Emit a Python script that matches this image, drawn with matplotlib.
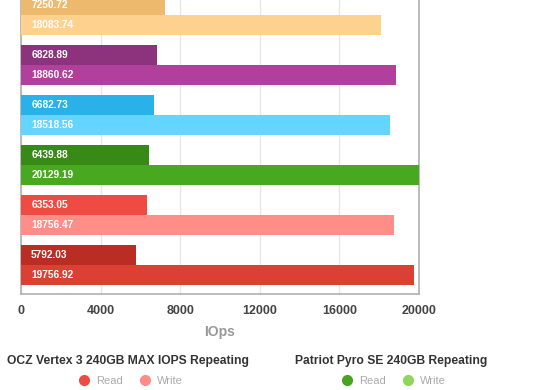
import matplotlib.pyplot as plt
from matplotlib.lines import Line2D

plt.rcParams['font.family'] = ['Liberation Sans', 'DejaVu Sans']

# top to bottom, as drawn
read_vals = [7250.72, 6828.89, 6682.73, 6439.88, 6353.05, 5792.03]
write_vals = [18083.74, 18860.62, 18518.56, 20129.19, 18756.47, 19756.92]
read_colors = ['#EDBA6D', '#8D337E', '#2AB1EA', '#378A15', '#F04B42', '#B92D25']
write_colors = ['#FFD18E', '#B0409B', '#63D5FE', '#48A81F', '#FF8D88', '#DC4034']
ticks = [0, 4000, 8000, 12000, 16000, 20000]

fig = plt.figure(figsize=(5.6, 3.9), dpi=100)
# the plot area runs off the top edge of the picture
ax = fig.add_axes([21 / 560, 96 / 390, 398 / 560, 310 / 390])

n = len(read_vals)
for i in range(n):
    k = n - 1 - i
    yr = k + 0.78
    yw = k + 0.38
    ax.barh(yr, read_vals[i], height=0.4, color=read_colors[i], zorder=3)
    ax.barh(yw, write_vals[i], height=0.4, color=write_colors[i], zorder=3)
    for y, v in ((yr, read_vals[i]), (yw, write_vals[i])):
        ax.annotate('%.2f' % v, xy=(0, y), xytext=(7.3, 0), textcoords='offset points',
                    ha='left', va='center', color='white', fontsize=7.3,
                    fontweight='bold', zorder=4)

ax.set_xlim(0, 20000)
ax.set_ylim(0, 6.2)
ax.set_xticks(ticks)
ax.set_xticklabels([str(t) for t in ticks])
ax.set_yticks([])
ax.tick_params(axis='x', length=0, pad=8, labelsize=9, labelcolor='#444444')
for lab in ax.get_xticklabels():
    lab.set_fontweight('bold')
ax.grid(axis='x', color='#e6e6e6', linewidth=1, zorder=0)
for s in ax.spines.values():
    s.set_color('#b0b0b0')
    s.set_linewidth(1.2)
ax.set_xlabel('IOps', fontsize=10, color='#999999', fontweight='bold', labelpad=6)

def legend_block(title, c_read, c_write, x):
    fig.text(x, 1 - 361 / 390, title, ha='center', va='center', fontsize=8.7,
             fontweight='bold', color='#333333')
    h = [Line2D([], [], marker='o', ls='', markersize=7, color=c_read),
         Line2D([], [], marker='o', ls='', markersize=7, color=c_write)]
    lg = fig.legend(h, ['Read', 'Write'], ncol=2, frameon=False,
                    loc='center', bbox_to_anchor=(x, 1 - 381 / 390),
                    fontsize=8, handletextpad=0.1, columnspacing=1.0,
                    borderpad=0.0)
    for t in lg.get_texts():
        t.set_color('#aaaaaa')
    return lg

legend_block('OCZ Vertex 3 240GB MAX IOPS Repeating', '#EE4B43', '#FF8C87', 128 / 560)
legend_block('Patriot Pyro SE 240GB Repeating', '#47A41F', '#8FD65B', 391 / 560)

fig.savefig('out.png', dpi=100)
